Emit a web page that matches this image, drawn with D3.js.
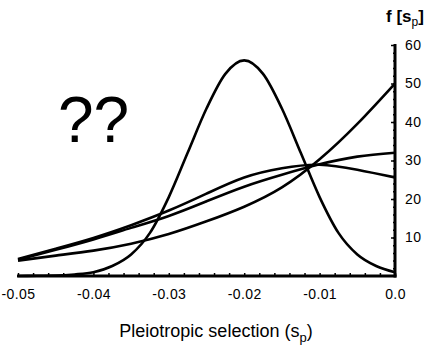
<!DOCTYPE html>
<html>
<head>
<meta charset="utf-8">
<script src="https://cdn.jsdelivr.net/npm/d3@7/dist/d3.min.js"></script>
<style>
  html, body { margin: 0; padding: 0; background: #fff; }
  svg { display: block; }
  text { font-family: "Liberation Sans", Arial, sans-serif; fill: #000; }
</style>
</head>
<body>
<script>
// ---- Data ----
const xTickValues = [-0.05, -0.04, -0.03, -0.02, -0.01, 0.0];
const xTickLabels = ["-0.05", "-0.04", "-0.03", "-0.02", "-0.01", "0.0"];
const yTickValues = [10, 20, 30, 40, 50, 60];
const yTickLabels = ["10", "20", "30", "40", "50", "60"];

// bell-shaped curve, sampled every 0.0025
const bellX = [-0.05, -0.0475, -0.045, -0.0425, -0.04, -0.0375, -0.035, -0.0325, -0.03, -0.0275, -0.025,
               -0.0225, -0.02, -0.0175, -0.015, -0.0125, -0.01, -0.0075, -0.005, -0.0025, 0.0];
const bellY = [0.0, 0.05, 0.1, 0.4, 1.0, 2.6, 5.6, 11.2, 20.5, 32, 43.5,
               52.5, 56, 52.5, 43.5, 32, 20.5, 11.2, 5.6, 2.6, 1.0];

// three broad curves, sampled every 0.005
const broadX = [-0.05, -0.045, -0.04, -0.035, -0.03, -0.025, -0.02, -0.015, -0.01, -0.005, 0.0];
const curveA = [4.0, 5.3, 6.6, 8.4, 10.9, 14.2, 18.0, 23.0, 30.3, 39.5, 50.0];   // ends at 50
const curveB = [4.2, 6.8, 9.5, 12.5, 15.6, 19.4, 23.2, 26.3, 29.0, 31.0, 32.0];  // ends at 32
const curveC = [4.4, 7.1, 9.9, 13.2, 17.0, 21.4, 25.6, 28.0, 28.9, 27.6, 25.6];  // ends at 25.6

const xMinorStep = 0.002;
const yMinorStep = 2;

// ---- Chart ----
const W = 425, H = 349;
const svg = d3.select("body").append("svg").attr("width", W).attr("height", H);
svg.append("rect").attr("width", W).attr("height", H).attr("fill", "#fff");

const x = d3.scaleLinear().domain([-0.05, 0]).range([18, 395]);
const y = d3.scaleLinear().domain([0, 60]).range([276, 45]);

const bellLine = d3.line().x(d => x(d[0])).y(d => y(d[1])).curve(d3.curveMonotoneX);
const broadLine = d3.line().x(d => x(d[0])).y(d => y(d[1])).curve(d3.curveNatural);

const g = svg.append("g");
g.append("path").datum(d3.zip(bellX, bellY)).attr("d", bellLine);
g.selectAll("path.broad").data([curveA, curveB, curveC]).join("path")
  .attr("class", "broad")
  .attr("d", vals => broadLine(d3.zip(broadX, vals)));
g.selectAll("path")
  .attr("fill", "none")
  .attr("stroke", "#000")
  .attr("stroke-width", 2.6)
  .attr("stroke-linejoin", "round");

// x-axis minor ticks (upwards)
const xMinor = d3.range(0, 26).map(i => -0.05 + i * xMinorStep);
svg.append("g").attr("transform", "translate(0,276)")
  .call(d3.axisTop(x).tickValues(xMinor).tickSize(3).tickFormat(""))
  .call(a => a.select(".domain").remove())
  .call(a => a.selectAll("line").attr("stroke-width", 1.5));

// x-axis line + labels
const gx = svg.append("g").attr("transform", "translate(0,276)")
  .call(d3.axisBottom(x).tickValues(xTickValues).tickSize(0).tickPadding(13)
        .tickFormat((d, i) => xTickLabels[i]));
gx.select(".domain").remove();
gx.selectAll("text").attr("font-size", 14).attr("font-family", "Liberation Sans, Arial, sans-serif")
  .attr("letter-spacing", 0.4);
svg.append("line").attr("x1", 17).attr("x2", 396.5).attr("y1", 276).attr("y2", 276)
  .attr("stroke", "#000").attr("stroke-width", 3);

// y-axis minor ticks (leftwards)
const yMinor = d3.range(1, 30).map(i => i * yMinorStep);
svg.append("g").attr("transform", "translate(395,0)")
  .call(d3.axisLeft(y).tickValues(yMinor).tickSize(2).tickFormat(""))
  .call(a => a.select(".domain").remove())
  .call(a => a.selectAll("line").attr("stroke-width", 1.5));
svg.append("g").attr("transform", "translate(395,0)")
  .call(d3.axisLeft(y).tickValues(yTickValues).tickSize(4).tickFormat(""))
  .call(a => a.select(".domain").remove())
  .call(a => a.selectAll("line").attr("stroke-width", 1.5));

// y-axis labels
const gy = svg.append("g").attr("transform", "translate(395,0)")
  .call(d3.axisRight(y).tickValues(yTickValues).tickSize(0).tickPadding(10)
        .tickFormat((d, i) => yTickLabels[i]));
gy.select(".domain").remove();
gy.selectAll("text").attr("font-size", 14).attr("font-family", "Liberation Sans, Arial, sans-serif")
  .attr("letter-spacing", 0.4);
svg.append("line").attr("x1", 395).attr("x2", 395).attr("y1", 44).attr("y2", 277.5)
  .attr("stroke", "#000").attr("stroke-width", 3);

// y title f[s_p]
const yt = svg.append("text").attr("x", 386).attr("y", 22).attr("font-size", 17).attr("font-weight", "bold");
yt.append("tspan").text("f [s");
yt.append("tspan").attr("font-size", 12).attr("font-weight", "normal").attr("dy", 4).text("p");
yt.append("tspan").attr("dy", -4).text("]");

// x title
const xt = svg.append("text").attr("x", 216).attr("y", 337).attr("text-anchor", "middle").attr("font-size", 18);
xt.append("tspan").text("Pleiotropic selection (s");
xt.append("tspan").attr("font-size", 13).attr("dy", 5).text("p");
xt.append("tspan").attr("dy", -5).text(")");

// big question marks
svg.append("text").attr("x", 58).attr("y", 142).attr("font-size", 64).text("??");
</script>
</body>
</html>
